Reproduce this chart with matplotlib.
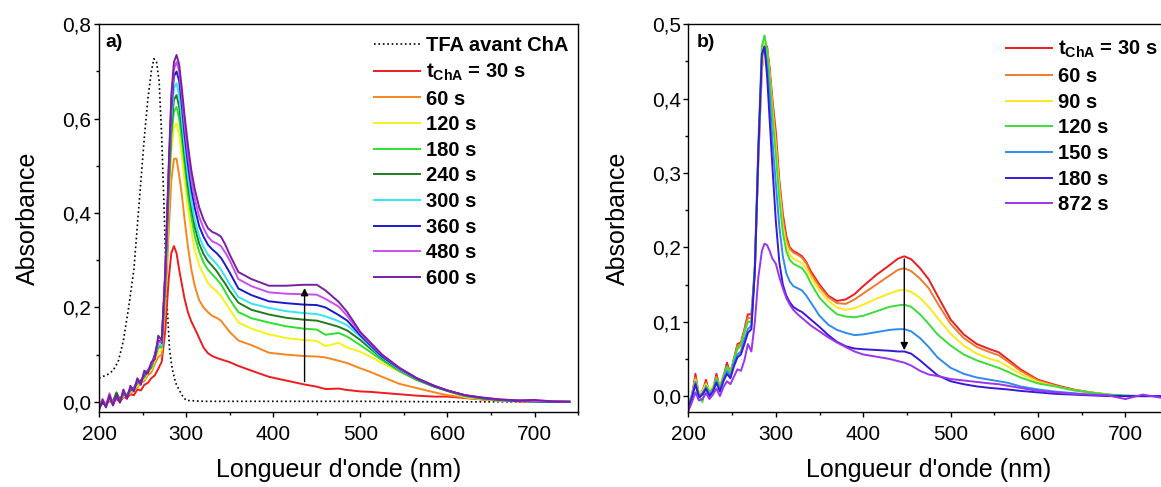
import matplotlib
matplotlib.use("Agg")
import matplotlib.pyplot as plt
from matplotlib.ticker import MultipleLocator, FuncFormatter

plt.rcParams["font.family"] = ["Liberation Sans", "DejaVu Sans"]
plt.rcParams["mathtext.fontset"] = "custom"
plt.rcParams["mathtext.rm"] = "Liberation Sans"
plt.rcParams["mathtext.bf"] = "Liberation Sans:bold"
plt.rcParams["mathtext.it"] = "Liberation Sans:italic"

# ---- panel a) -------------------------------------------------------------
wl_a = [200, 204, 208, 212, 216, 220, 224, 228, 232, 236, 240, 244, 248, 252, 256, 260, 264, 268,
        272, 276, 280, 283, 286, 289, 292, 295, 298, 302, 306, 310, 315, 320, 325, 330, 335, 340,
        345, 350, 360,
        375, 395, 415, 435, 450, 460, 475, 485, 500, 512, 525, 545, 565, 585, 600, 620, 640, 660,
        680, 700, 720, 740]

wl_tfa = [200, 210, 216, 222, 228, 234, 240, 246, 252, 256, 260, 263, 266, 269, 272, 275, 278,
          281, 284, 288, 292, 296, 300, 320, 400, 500, 600, 700, 740]
abs_tfa = [0.05, 0.058, 0.066, 0.085, 0.13, 0.2, 0.28, 0.42, 0.56, 0.64, 0.70, 0.727, 0.72, 0.68,
           0.56, 0.39, 0.21, 0.11, 0.07, 0.04, 0.025, 0.012, 0.003, 0.001, 0.001, 0.001, 0.0, 0.0, 0.0]

a_30 = [-0.01, -0.004, -0.006, 0.002, -0.002, 0.006, 0.0, 0.01, 0.008, 0.016, 0.014, 0.026, 0.024, 0.036, 0.04, 0.05, 0.056, 0.07,
        0.085, 0.15, 0.26, 0.315, 0.33, 0.315, 0.28, 0.25, 0.22, 0.19, 0.17, 0.155, 0.135, 0.115, 0.103, 0.097, 0.093, 0.09, 0.087, 0.084, 0.076,
        0.066, 0.053, 0.045, 0.037, 0.032, 0.027, 0.028, 0.025, 0.022, 0.021, 0.019, 0.016, 0.013, 0.011, 0.011, 0.008, 0.005, 0.003, 0.001, 0.0, 0.0, 0.0]
a_60 = [-0.008, -0.004, -0.002, 0.004, 0.002, 0.01, 0.006, 0.01, 0.014, 0.018, 0.024, 0.03, 0.04, 0.044, 0.056, 0.062, 0.08, 0.095,
        0.1, 0.2, 0.36, 0.47, 0.515, 0.515, 0.48, 0.44, 0.39, 0.33, 0.28, 0.245, 0.215, 0.2, 0.19, 0.182, 0.178, 0.172, 0.16, 0.148, 0.13,
        0.12, 0.104, 0.1, 0.097, 0.096, 0.094, 0.087, 0.082, 0.071, 0.063, 0.053, 0.038, 0.029, 0.02, 0.014, 0.009, 0.005, 0.002, 0.001, 0.0, 0.0, 0.0]
a_120 = [-0.008, -0.002, -0.004, 0.006, 0.0, 0.012, 0.006, 0.012, 0.016, 0.02, 0.028, 0.034, 0.044, 0.048, 0.062, 0.068, 0.088, 0.105,
         0.11, 0.23, 0.42, 0.53, 0.58, 0.59, 0.565, 0.52, 0.47, 0.41, 0.36, 0.32, 0.29, 0.27, 0.252, 0.242, 0.234, 0.224, 0.21, 0.196, 0.168,
         0.155, 0.143, 0.135, 0.131, 0.129, 0.118, 0.125, 0.115, 0.106, 0.095, 0.082, 0.064, 0.046, 0.032, 0.023, 0.01, 0.006, 0.003, 0.002, 0.001, 0.0, 0.0]
a_180 = [-0.01, 0.0, -0.006, 0.008, 0.002, 0.018, 0.006, 0.014, 0.016, 0.022, 0.03, 0.038, 0.046, 0.052, 0.066, 0.072, 0.094, 0.115,
         0.115, 0.24, 0.44, 0.56, 0.615, 0.625, 0.60, 0.555, 0.505, 0.44, 0.39, 0.35, 0.318, 0.295, 0.28, 0.27, 0.26, 0.249, 0.233, 0.217, 0.19,
         0.177, 0.168, 0.16, 0.155, 0.153, 0.142, 0.146, 0.138, 0.12, 0.105, 0.088, 0.065, 0.046, 0.032, 0.023, 0.012, 0.007, 0.003, 0.002, 0.001, 0.0, 0.0]
a_240 = [-0.012, -0.002, -0.004, 0.008, 0.0, 0.02, 0.004, 0.016, 0.014, 0.024, 0.028, 0.04, 0.044, 0.054, 0.064, 0.074, 0.095, 0.118,
         0.12, 0.25, 0.46, 0.58, 0.64, 0.65, 0.625, 0.58, 0.525, 0.46, 0.41, 0.37, 0.335, 0.313, 0.298, 0.288, 0.277, 0.263, 0.25, 0.235, 0.21,
         0.195, 0.185, 0.178, 0.174, 0.172, 0.167, 0.159, 0.151, 0.131, 0.112, 0.092, 0.067, 0.047, 0.032, 0.023, 0.013, 0.007, 0.004, 0.002, 0.001, 0.0, 0.0]
a_300 = [-0.01, 0.002, -0.006, 0.01, -0.002, 0.01, 0.004, 0.018, 0.014, 0.026, 0.03, 0.042, 0.046, 0.056, 0.068, 0.076, 0.098, 0.12,
         0.12, 0.26, 0.47, 0.60, 0.665, 0.675, 0.65, 0.60, 0.545, 0.48, 0.425, 0.385, 0.35, 0.328, 0.312, 0.302, 0.292, 0.28, 0.265, 0.249, 0.222,
         0.208, 0.199, 0.192, 0.188, 0.186, 0.181, 0.171, 0.162, 0.138, 0.116, 0.094, 0.068, 0.048, 0.033, 0.024, 0.013, 0.008, 0.004, 0.002, 0.001, 0.0, 0.0]
a_360 = [-0.014, 0.0, -0.01, 0.012, -0.006, 0.012, 0.002, 0.02, 0.012, 0.028, 0.028, 0.044, 0.044, 0.058, 0.066, 0.078, 0.1, 0.13,
         0.125, 0.265, 0.48, 0.62, 0.69, 0.70, 0.68, 0.63, 0.57, 0.505, 0.45, 0.41, 0.372, 0.35, 0.333, 0.323, 0.315, 0.305, 0.29, 0.274, 0.24,
         0.226, 0.213, 0.209, 0.206, 0.205, 0.2, 0.184, 0.172, 0.141, 0.119, 0.096, 0.07, 0.049, 0.033, 0.024, 0.014, 0.008, 0.004, 0.002, 0.001, 0.0, 0.0]
a_480 = [-0.012, 0.006, -0.008, 0.018, -0.004, 0.014, 0.0, 0.022, 0.01, 0.03, 0.026, 0.046, 0.04, 0.062, 0.064, 0.08, 0.095, 0.125,
         0.128, 0.27, 0.49, 0.635, 0.705, 0.72, 0.70, 0.65, 0.59, 0.525, 0.47, 0.43, 0.392, 0.368, 0.35, 0.34, 0.336, 0.33, 0.316, 0.30, 0.26,
         0.245, 0.232, 0.229, 0.228, 0.227, 0.218, 0.202, 0.182, 0.145, 0.122, 0.099, 0.071, 0.05, 0.034, 0.024, 0.014, 0.009, 0.005, 0.003, 0.002, 0.001, 0.0]
a_600 = [-0.018, 0.004, -0.012, 0.014, -0.008, 0.016, -0.002, 0.026, 0.006, 0.034, 0.022, 0.05, 0.036, 0.066, 0.06, 0.084, 0.09, 0.14,
         0.13, 0.275, 0.50, 0.65, 0.72, 0.735, 0.715, 0.665, 0.61, 0.545, 0.49, 0.45, 0.412, 0.386, 0.368, 0.36, 0.356, 0.35, 0.333, 0.312, 0.275,
         0.26, 0.246, 0.246, 0.248, 0.248, 0.236, 0.212, 0.19, 0.148, 0.125, 0.10, 0.072, 0.05, 0.034, 0.024, 0.014, 0.009, 0.005, 0.003, 0.004, 0.001, 0.0]

series_a = [a_30, a_60, a_120, a_180, a_240, a_300, a_360, a_480, a_600]
labels_a = ["30 s", "60 s", "120 s", "180 s", "240 s", "300 s", "360 s", "480 s", "600 s"]
colors_a = ["#ee1c1c", "#f7861e", "#f5f21a", "#2ee02e", "#1f7d1f", "#33e5f5", "#1a1acc", "#c74ff0", "#7a1fa0"]

# ---- panel b) -------------------------------------------------------------
wl_b = [200, 204, 208, 212, 216, 220, 224, 228, 232, 236, 240, 244, 248, 252, 256, 260, 264, 268,
        272, 276, 280, 284, 287, 290, 293, 296, 300, 304, 308, 312, 316, 320, 325, 330, 335, 340,
        350, 360, 370, 380, 390, 400, 415, 430, 440, 447, 455, 465, 475, 485, 500, 515, 530, 545,
        555, 565, 580, 600, 620, 640, 660, 680, 700, 720, 740]

b_30 = [-0.015, 0.0, 0.03, 0.0, 0.005, 0.022, 0.004, 0.008, 0.03, 0.01, 0.025, 0.045, 0.03, 0.05, 0.07, 0.072, 0.09, 0.11,
        0.11, 0.17, 0.32, 0.44, 0.472, 0.47, 0.44, 0.40, 0.355, 0.29, 0.245, 0.215, 0.2, 0.195, 0.192, 0.188, 0.18, 0.168,
        0.15, 0.135, 0.128, 0.13, 0.137, 0.148, 0.163, 0.176, 0.185, 0.188, 0.184, 0.172, 0.157, 0.135, 0.103, 0.083, 0.07, 0.063,
        0.059, 0.05, 0.036, 0.022, 0.015, 0.009, 0.005, 0.002, 0.0, 0.0, 0.0]
b_60 = [-0.012, 0.002, 0.025, 0.002, 0.008, 0.018, 0.006, 0.01, 0.026, 0.012, 0.028, 0.04, 0.034, 0.048, 0.068, 0.07, 0.088, 0.105,
        0.105, 0.17, 0.32, 0.44, 0.472, 0.465, 0.435, 0.395, 0.345, 0.285, 0.238, 0.21, 0.198, 0.193, 0.19, 0.186, 0.178, 0.165,
        0.147, 0.133, 0.125, 0.124, 0.13, 0.138, 0.15, 0.162, 0.17, 0.172, 0.168, 0.158, 0.145, 0.125, 0.097, 0.078, 0.066, 0.059,
        0.055, 0.047, 0.034, 0.021, 0.014, 0.008, 0.005, 0.002, 0.0, 0.0, 0.0]
b_90 = [-0.01, 0.0, 0.022, 0.004, 0.006, 0.016, 0.008, 0.012, 0.022, 0.014, 0.024, 0.038, 0.032, 0.046, 0.062, 0.066, 0.084, 0.1,
        0.1, 0.17, 0.32, 0.44, 0.475, 0.465, 0.43, 0.385, 0.335, 0.275, 0.228, 0.203, 0.19, 0.185, 0.182, 0.179, 0.171, 0.16,
        0.142, 0.128, 0.119, 0.116, 0.118, 0.123, 0.131, 0.138, 0.142, 0.143, 0.14, 0.132, 0.12, 0.105, 0.084, 0.068, 0.057, 0.05,
        0.047, 0.04, 0.03, 0.019, 0.013, 0.008, 0.005, 0.002, 0.0, 0.0, 0.0]
b_120 = [-0.012, 0.002, 0.02, 0.002, -0.008, 0.014, 0.006, 0.01, 0.024, 0.012, 0.026, 0.04, 0.03, 0.05, 0.064, 0.068, 0.086, 0.1,
         0.1, 0.18, 0.34, 0.47, 0.485, 0.465, 0.425, 0.378, 0.325, 0.265, 0.22, 0.195, 0.183, 0.178, 0.175, 0.172, 0.164, 0.152,
         0.132, 0.12, 0.11, 0.107, 0.106, 0.108, 0.114, 0.12, 0.122, 0.123, 0.12, 0.11, 0.097, 0.083, 0.068, 0.056, 0.048, 0.042,
         0.038, 0.033, 0.025, 0.017, 0.013, 0.008, 0.005, 0.002, 0.001, 0.0, 0.0]
b_150 = [-0.014, 0.0, 0.018, 0.0, 0.004, 0.012, 0.002, 0.008, 0.02, 0.008, 0.022, 0.034, 0.026, 0.044, 0.056, 0.06, 0.076, 0.09,
         0.095, 0.17, 0.33, 0.455, 0.47, 0.445, 0.40, 0.345, 0.285, 0.228, 0.188, 0.165, 0.154, 0.148, 0.145, 0.142, 0.135, 0.126,
         0.108, 0.096, 0.089, 0.085, 0.082, 0.083, 0.086, 0.089, 0.09, 0.09, 0.087, 0.078, 0.066, 0.052, 0.038, 0.03, 0.025, 0.022,
         0.02, 0.018, 0.013, 0.009, 0.006, 0.004, 0.002, 0.001, 0.0, 0.0, 0.0]
b_180 = [-0.016, -0.002, 0.016, -0.002, 0.002, 0.01, 0.0, 0.006, 0.018, 0.006, 0.02, 0.03, 0.024, 0.04, 0.052, 0.056, 0.07, 0.085,
         0.09, 0.17, 0.33, 0.46, 0.47, 0.43, 0.37, 0.31, 0.235, 0.18, 0.15, 0.135, 0.126, 0.12, 0.116, 0.113, 0.108, 0.103,
         0.093, 0.082, 0.073, 0.067, 0.064, 0.063, 0.062, 0.061, 0.06, 0.06, 0.057, 0.048, 0.038, 0.028, 0.02, 0.016, 0.013, 0.011,
         0.01, 0.009, 0.007, 0.005, 0.003, 0.002, 0.001, 0.0, 0.0, 0.0, 0.0]
b_872 = [-0.02, -0.008, 0.005, -0.006, -0.004, 0.004, -0.004, 0.002, 0.01, 0.0, 0.012, 0.02, 0.016, 0.026, 0.036, 0.034, 0.048, 0.07,
         0.06, 0.1, 0.16, 0.195, 0.205, 0.203, 0.195, 0.185, 0.178, 0.16, 0.145, 0.132, 0.123, 0.116, 0.11, 0.105, 0.1, 0.095,
         0.087, 0.079, 0.072, 0.066, 0.06, 0.056, 0.053, 0.05, 0.047, 0.045, 0.041, 0.034, 0.029, 0.027, 0.023, 0.021, 0.019, 0.017,
         0.016, 0.014, 0.011, 0.007, 0.005, 0.003, 0.002, 0.001, -0.004, 0.002, -0.002]

series_b = [b_30, b_60, b_90, b_120, b_150, b_180, b_872]
labels_b = ["30 s", "60 s", "90 s", "120 s", "150 s", "180 s", "872 s"]
colors_b = ["#ec1c24", "#f07a2c", "#fbe91c", "#3bdc3b", "#2d8cf0", "#3a18d8", "#9b34ee"]

FIRST_LABEL = r"$\mathbf{t}_{\mathbf{ChA}}$ = 30 s"
LEGEND_KW = dict(loc="upper left", frameon=False, prop={"weight": "bold", "size": 14.5},
                 handlelength=2.3, handletextpad=0.3, labelspacing=0.33,
                 borderpad=0, borderaxespad=0)


def comma(v, pos):
    return f"{v:.1f}".replace(".", ",")


def style_axes(ax, ymax, ymajor):
    ax.set_xlim(200, 750)
    ax.set_ylim(-0.021, ymax)
    ax.xaxis.set_major_locator(MultipleLocator(100))
    ax.xaxis.set_minor_locator(MultipleLocator(50))
    ax.yaxis.set_major_locator(MultipleLocator(ymajor))
    ax.yaxis.set_minor_locator(MultipleLocator(ymajor / 2))
    ax.yaxis.set_major_formatter(FuncFormatter(comma))
    ax.tick_params(which="major", direction="out", length=3.5, width=1.0, labelsize=15)
    ax.tick_params(which="minor", direction="out", length=2, width=1.0)
    ax.tick_params(axis="x", which="major", pad=6)
    ax.tick_params(axis="y", which="major", pad=2)
    for sp in ax.spines.values():
        sp.set_linewidth(1.0)
    ax.set_xlabel("Longueur d'onde (nm)", fontsize=18, labelpad=10)
    ax.set_ylabel("Absorbance", fontsize=18, labelpad=16)


assert all(len(s) == len(wl_a) for s in series_a)
assert all(len(s) == len(wl_b) for s in series_b)

fig = plt.figure(figsize=(11.61, 4.87), dpi=100)
ax_a = fig.add_axes([0.0853, 0.1546, 0.4126, 0.7955])
ax_b = fig.add_axes([0.5930, 0.1546, 0.4139, 0.7955])

# a)
h_tfa, = ax_a.plot(wl_tfa, abs_tfa, color="black", ls=":", lw=1.2)
handles_a = [h_tfa]
for vals, col in zip(series_a, colors_a):
    h, = ax_a.plot(wl_a, vals, color=col, lw=1.4)
    handles_a.append(h)
names_a = ["TFA avant ChA", FIRST_LABEL] + labels_a[1:]
ax_a.annotate("", xy=(436, 0.247), xytext=(436, 0.037),
              arrowprops=dict(arrowstyle="-|>", color="black", lw=1.0, mutation_scale=11))
ax_a.text(0.014, 0.952, "a)", transform=ax_a.transAxes, fontsize=14, fontweight="bold", va="center")
style_axes(ax_a, 0.8, 0.2)
ax_a.legend(handles_a, names_a, bbox_to_anchor=(0.573, 0.97), **LEGEND_KW)

# b)
handles_b = []
for vals, col in zip(series_b, colors_b):
    h, = ax_b.plot(wl_b, vals, color=col, lw=1.4)
    handles_b.append(h)
names_b = [FIRST_LABEL] + labels_b[1:]
ax_b.annotate("", xy=(447, 0.058), xytext=(447, 0.188),
              arrowprops=dict(arrowstyle="-|>", color="black", lw=1.0, mutation_scale=11))
ax_b.text(0.018, 0.952, "b)", transform=ax_b.transAxes, fontsize=14, fontweight="bold", va="center")
style_axes(ax_b, 0.5, 0.1)
ax_b.legend(handles_b, names_b, bbox_to_anchor=(0.661, 0.962), **LEGEND_KW)

fig.savefig("out.png", dpi=100)
